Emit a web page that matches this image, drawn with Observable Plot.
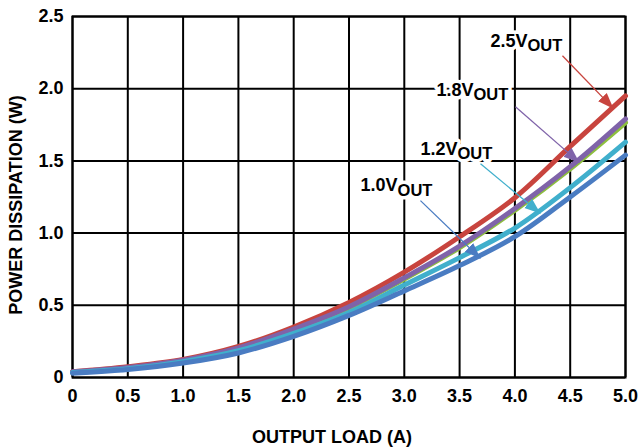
<!DOCTYPE html>
<html>
<head>
<meta charset="utf-8">
<script src="https://cdn.jsdelivr.net/npm/d3@7"></script>
<script src="https://cdn.jsdelivr.net/npm/@observablehq/plot@0.6"></script>
<style>
  html, body { margin: 0; padding: 0; background: white; }
</style>
</head>
<body>
<div id="chart"></div>
<script>
// Output load (A)
const load = [0, 0.5, 1.0, 1.5, 2.0, 2.5, 3.0, 3.5, 4.0, 4.5, 5.0];
// Power dissipation (W) per output voltage
const p25 = [0.040, 0.075, 0.125, 0.215, 0.350, 0.520, 0.730, 0.975, 1.245, 1.600, 1.950];
const p18 = [0.040, 0.070, 0.120, 0.205, 0.335, 0.490, 0.690, 0.910, 1.170, 1.460, 1.790];
const p15 = [0.035, 0.065, 0.115, 0.200, 0.328, 0.483, 0.682, 0.900, 1.158, 1.445, 1.765];
const p12 = [0.035, 0.060, 0.110, 0.185, 0.305, 0.450, 0.640, 0.830, 1.035, 1.315, 1.630];
const p10 = [0.030, 0.055, 0.100, 0.170, 0.285, 0.430, 0.600, 0.775, 0.975, 1.250, 1.540];

const seriesNames  = ["2.5V", "1.5V", "1.8V", "1.2V", "1.0V"];
const seriesValues = [p25, p15, p18, p12, p10];
const seriesColors = ["#c8443e", "#8dbf3e", "#7f63a9", "#40afcc", "#4a7cc2"];

const xTicks = [0, 0.5, 1.0, 1.5, 2.0, 2.5, 3.0, 3.5, 4.0, 4.5, 5.0];
const yTicks = [0, 0.5, 1.0, 1.5, 2.0, 2.5];

// Annotations (data coordinates)
const labelMain = ["2.5V", "1.8V", "1.2V", "1.0V"];
const labelSub  = ["OUT", "OUT", "OUT", "OUT"];
const labelX    = [4.114, 3.626, 3.481, 2.939];
const labelY    = [2.330, 1.990, 1.581, 1.329];
const arrowX1   = [4.430, 4.005, 3.689, 3.146];
const arrowY1   = [2.228, 1.875, 1.481, 1.225];
const arrowX2   = [4.892, 4.584, 4.231, 3.689];
const arrowY2   = [1.862, 1.488, 1.135, 0.824];
const arrowColors = ["#c8443e", "#7f63a9", "#40afcc", "#4a7cc2"];

const xTitle = "OUTPUT LOAD (A)";
const yTitle = "POWER DISSIPATION (W)";

const fmt = d => d === 0 ? "0" : d.toFixed(1);

const labels = labelMain.map((t, i) => ({main: t, sub: labelSub[i], x: labelX[i], y: labelY[i]}));

const lineMarks = seriesValues.map((vals, s) =>
  Plot.line(load.map((x, i) => ({x, y: vals[i]})), {
    x: "x", y: "y", stroke: seriesColors[s], strokeWidth: 5, curve: "catmull-rom"
  })
);

const arrowMarks = labelMain.map((t, i) =>
  Plot.link([i], {
    x1: () => arrowX1[i], y1: () => arrowY1[i],
    x2: () => arrowX2[i], y2: () => arrowY2[i],
    stroke: arrowColors[i], strokeWidth: 1.3, markerEnd: "arrow"
  })
);

const common = {fontWeight: "bold", fontFamily: "Liberation Sans, Arial, sans-serif"};

const svg = Plot.plot({
  width: 638,
  height: 448,
  marginLeft: 72,
  marginRight: 13,
  marginTop: 16,
  marginBottom: 71,
  style: {fontFamily: "Liberation Sans, Arial, sans-serif", background: "white", color: "black"},
  x: {domain: [0, 5]},
  y: {domain: [0, 2.5]},
  marks: [
    Plot.gridX(xTicks, {stroke: "black", strokeOpacity: 1, strokeWidth: 2}),
    Plot.gridY(yTicks, {stroke: "black", strokeOpacity: 1, strokeWidth: 2}),
    Plot.frame({stroke: "black", strokeWidth: 2}),
    Plot.axisX(xTicks, {tickSize: 0, tickPadding: 12, tickFormat: fmt, fontSize: 18, label: null, ...common}),
    Plot.axisY(yTicks, {tickSize: 0, tickPadding: 9, tickFormat: fmt, fontSize: 18, label: null, ...common}),
    ...lineMarks,
    ...arrowMarks,
    // white halos behind labels
    Plot.text(labels, {x: "x", y: "y", text: "main", textAnchor: "end", fontSize: 18, fill: "white", stroke: "white", strokeWidth: 7, strokeLinejoin: "round", ...common}),
    Plot.text(labels, {x: "x", y: "y", text: "sub", textAnchor: "start", dy: 5, fontSize: 16.5, fill: "white", stroke: "white", strokeWidth: 7, strokeLinejoin: "round", ...common}),
    Plot.text(labels, {x: "x", y: "y", text: "main", textAnchor: "end", fontSize: 18, fill: "black", ...common}),
    Plot.text(labels, {x: "x", y: "y", text: "sub", textAnchor: "start", dy: 5, fontSize: 16.5, fill: "black", ...common}),
    Plot.text([xTitle], {text: d => d, frameAnchor: "bottom", textAnchor: "middle", lineAnchor: "middle", dy: 59.5, dx: -17, fontSize: 18, fill: "black", ...common}),
    Plot.text([yTitle], {text: d => d, frameAnchor: "left", textAnchor: "middle", lineAnchor: "middle", rotate: -90, dx: -56, dy: 8, fontSize: 18, fill: "black", ...common})
  ]
});

// Filled triangular arrowheads
d3.select(svg).selectAll("marker").each(function () {
  const m = d3.select(this);
  const c = m.attr("stroke");
  m.attr("viewBox", "-16 -8 16 16")
   .attr("markerUnits", "userSpaceOnUse")
   .attr("markerWidth", 16)
   .attr("markerHeight", 16)
   .attr("fill", c)
   .attr("stroke", "none");
  m.selectAll("*").remove();
  m.append("path").attr("d", "M-16,-6L0,0L-16,6Z");
});

document.getElementById("chart").appendChild(svg);
</script>
</body>
</html>
